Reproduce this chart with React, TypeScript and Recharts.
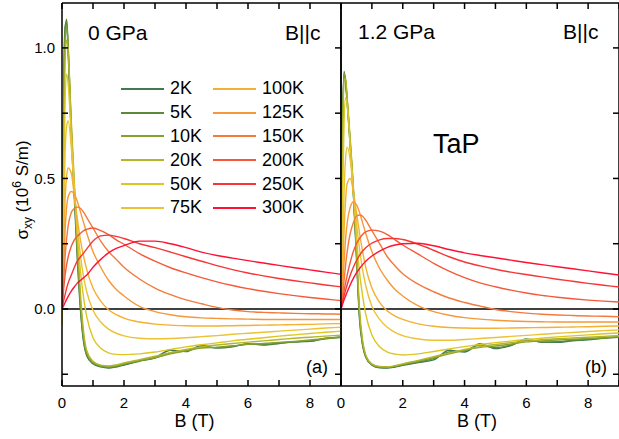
import React from 'react'
import { LineChart, Line, XAxis, YAxis, ReferenceLine, Legend } from 'recharts'

const FONT = '"Liberation Sans", Arial, Helvetica, sans-serif'

// magnetic field grid (T), shared by every curve
const fieldB = [0, 0.05, 0.1, 0.15, 0.2, 0.3, 0.4, 0.5, 0.6, 0.7, 0.8, 1, 1.25, 1.5, 1.75, 2, 2.5, 3, 3.5, 4, 4.5, 5, 5.5, 6, 6.5, 7, 7.5, 8, 8.5, 9]

const temps = ['2K', '5K', '10K', '20K', '50K', '75K', '100K', '125K', '150K', '200K', '250K', '300K']
const tempColors = ['#3f7a52', '#5a8a3a', '#86a02c', '#b3b52a', '#dcc622', '#ebc235', '#f3b033', '#f5983a', '#f47a3c', '#f45a3a', '#f63636', '#fe1234']

const bTicks = [0, 1, 2, 3, 4, 5, 6, 7, 8, 9]
const sigmaTicks = [-0.25, 0, 0.25, 0.5, 0.75, 1]

// sigma_xy (10^6 S/m), 0 GPa
const p0_2K = [0, 0.8, 1.08, 1.1, 0.98, 0.66, 0.42, 0.18, -0.01, -0.13, -0.18, -0.21, -0.222, -0.226, -0.222, -0.215, -0.198, -0.186, -0.158, -0.163, -0.14, -0.15, -0.145, -0.133, -0.138, -0.132, -0.126, -0.124, -0.112, -0.108]
const p0_5K = [0, 0.76, 1.07, 1.11, 1.0, 0.68, 0.44, 0.2, 0.0, -0.12, -0.176, -0.208, -0.22, -0.224, -0.22, -0.213, -0.2, -0.188, -0.168, -0.16, -0.146, -0.148, -0.143, -0.135, -0.136, -0.131, -0.127, -0.122, -0.114, -0.108]
const p0_10K = [0, 0.7, 1.03, 1.08, 1.0, 0.7, 0.46, 0.22, 0.02, -0.11, -0.17, -0.205, -0.218, -0.222, -0.218, -0.21, -0.198, -0.186, -0.172, -0.16, -0.15, -0.146, -0.141, -0.135, -0.132, -0.128, -0.124, -0.119, -0.113, -0.107]
const p0_20K = [0, 0.6, 0.95, 1.03, 0.98, 0.72, 0.48, 0.25, 0.05, -0.09, -0.16, -0.2, -0.215, -0.218, -0.214, -0.207, -0.194, -0.181, -0.167, -0.155, -0.145, -0.138, -0.132, -0.127, -0.122, -0.117, -0.112, -0.108, -0.104, -0.1]
const p0_50K = [-0.06, 0.45, 0.8, 0.9, 0.86, 0.66, 0.46, 0.28, 0.14, 0.04, -0.03, -0.11, -0.15, -0.168, -0.174, -0.175, -0.172, -0.165, -0.155, -0.145, -0.137, -0.13, -0.122, -0.116, -0.11, -0.104, -0.099, -0.094, -0.089, -0.085]
const p0_75K = [-0.06, 0.3, 0.6, 0.7, 0.72, 0.62, 0.45, 0.31, 0.2, 0.12, 0.065, -0.005, -0.05, -0.077, -0.093, -0.103, -0.112, -0.114, -0.113, -0.11, -0.106, -0.102, -0.097, -0.093, -0.089, -0.085, -0.081, -0.077, -0.073, -0.07]
const p0_100K = [0, 0.22, 0.42, 0.51, 0.54, 0.52, 0.43, 0.34, 0.26, 0.2, 0.15, 0.08, 0.03, -0.003, -0.022, -0.035, -0.05, -0.058, -0.062, -0.064, -0.065, -0.065, -0.064, -0.063, -0.062, -0.061, -0.06, -0.059, -0.057, -0.056]
const p0_125K = [0, 0.15, 0.3, 0.39, 0.43, 0.45, 0.44, 0.41, 0.37, 0.33, 0.29, 0.22, 0.16, 0.11, 0.075, 0.05, 0.01, -0.01, -0.022, -0.03, -0.034, -0.036, -0.038, -0.039, -0.04, -0.04, -0.04, -0.04, -0.04, -0.04]
const p0_150K = [0, 0.1, 0.2, 0.27, 0.32, 0.37, 0.385, 0.39, 0.385, 0.37, 0.35, 0.31, 0.26, 0.22, 0.19, 0.16, 0.115, 0.08, 0.055, 0.035, 0.02, 0.006, -0.004, -0.01, -0.013, -0.015, -0.017, -0.018, -0.019, -0.02]
const p0_200K = [0, 0.07, 0.13, 0.17, 0.2, 0.24, 0.265, 0.28, 0.29, 0.3, 0.305, 0.31, 0.3, 0.285, 0.265, 0.248, 0.212, 0.183, 0.158, 0.138, 0.12, 0.104, 0.09, 0.078, 0.068, 0.059, 0.051, 0.044, 0.038, 0.032]
const p0_250K = [0, 0.03, 0.055, 0.08, 0.1, 0.13, 0.16, 0.185, 0.2, 0.215, 0.23, 0.26, 0.28, 0.283, 0.278, 0.27, 0.25, 0.235, 0.218, 0.2, 0.183, 0.166, 0.151, 0.138, 0.127, 0.117, 0.108, 0.1, 0.092, 0.085]
const p0_300K = [0, 0.012, 0.025, 0.037, 0.048, 0.068, 0.085, 0.1, 0.11, 0.12, 0.13, 0.16, 0.19, 0.215, 0.232, 0.243, 0.26, 0.26, 0.25, 0.235, 0.218, 0.205, 0.195, 0.185, 0.176, 0.167, 0.158, 0.15, 0.141, 0.133]

// sigma_xy (10^6 S/m), 1.2 GPa
const p12_2K = [0, 0.7, 0.91, 0.86, 0.79, 0.62, 0.44, 0.2, -0.04, -0.14, -0.185, -0.215, -0.225, -0.226, -0.222, -0.216, -0.205, -0.195, -0.158, -0.165, -0.133, -0.152, -0.14, -0.115, -0.128, -0.128, -0.122, -0.118, -0.112, -0.108]
const p12_5K = [0, 0.68, 0.9, 0.87, 0.8, 0.63, 0.45, 0.21, -0.03, -0.135, -0.182, -0.213, -0.223, -0.224, -0.22, -0.214, -0.203, -0.19, -0.165, -0.16, -0.138, -0.148, -0.138, -0.12, -0.126, -0.125, -0.12, -0.116, -0.111, -0.107]
const p12_10K = [0, 0.65, 0.9, 0.88, 0.8, 0.64, 0.46, 0.22, -0.02, -0.13, -0.18, -0.212, -0.222, -0.223, -0.219, -0.212, -0.2, -0.187, -0.172, -0.158, -0.147, -0.142, -0.134, -0.126, -0.122, -0.119, -0.116, -0.113, -0.11, -0.106]
const p12_20K = [0, 0.6, 0.88, 0.88, 0.81, 0.65, 0.47, 0.24, 0.0, -0.12, -0.175, -0.21, -0.22, -0.221, -0.217, -0.21, -0.197, -0.183, -0.168, -0.155, -0.144, -0.136, -0.129, -0.123, -0.118, -0.114, -0.111, -0.108, -0.105, -0.102]
const p12_50K = [0, 0.4, 0.72, 0.81, 0.78, 0.62, 0.45, 0.28, 0.14, 0.05, -0.02, -0.1, -0.145, -0.165, -0.173, -0.176, -0.172, -0.163, -0.153, -0.144, -0.136, -0.129, -0.123, -0.117, -0.112, -0.107, -0.103, -0.099, -0.095, -0.092]
const p12_75K = [0, 0.2, 0.45, 0.58, 0.62, 0.57, 0.45, 0.33, 0.23, 0.15, 0.09, 0.01, -0.04, -0.07, -0.09, -0.102, -0.115, -0.12, -0.12, -0.117, -0.113, -0.109, -0.105, -0.101, -0.097, -0.093, -0.09, -0.086, -0.083, -0.08]
const p12_100K = [0, 0.13, 0.3, 0.42, 0.48, 0.5, 0.45, 0.37, 0.29, 0.22, 0.16, 0.08, 0.025, -0.008, -0.027, -0.04, -0.057, -0.066, -0.071, -0.073, -0.074, -0.074, -0.073, -0.072, -0.071, -0.07, -0.069, -0.068, -0.066, -0.065]
const p12_125K = [0, 0.08, 0.18, 0.27, 0.33, 0.39, 0.41, 0.4, 0.37, 0.33, 0.29, 0.22, 0.155, 0.11, 0.075, 0.05, 0.012, -0.01, -0.024, -0.033, -0.039, -0.043, -0.046, -0.048, -0.049, -0.05, -0.05, -0.05, -0.05, -0.05]
const p12_150K = [0, 0.05, 0.11, 0.17, 0.22, 0.29, 0.33, 0.355, 0.36, 0.355, 0.34, 0.3, 0.25, 0.2, 0.165, 0.135, 0.095, 0.066, 0.042, 0.025, 0.011, -0.002, -0.01, -0.016, -0.02, -0.023, -0.025, -0.027, -0.028, -0.03]
const p12_200K = [0, 0.035, 0.07, 0.1, 0.13, 0.18, 0.22, 0.25, 0.27, 0.285, 0.295, 0.302, 0.298, 0.285, 0.265, 0.245, 0.21, 0.175, 0.145, 0.12, 0.1, 0.085, 0.072, 0.061, 0.052, 0.045, 0.039, 0.034, 0.03, 0.027]
const p12_250K = [0, 0.025, 0.05, 0.072, 0.093, 0.13, 0.16, 0.185, 0.205, 0.222, 0.235, 0.252, 0.265, 0.27, 0.27, 0.266, 0.248, 0.225, 0.2, 0.18, 0.165, 0.152, 0.141, 0.132, 0.123, 0.114, 0.106, 0.098, 0.091, 0.084]
const p12_300K = [0, 0.018, 0.035, 0.05, 0.065, 0.093, 0.117, 0.138, 0.155, 0.17, 0.183, 0.203, 0.222, 0.236, 0.245, 0.25, 0.252, 0.242, 0.228, 0.215, 0.205, 0.196, 0.187, 0.178, 0.17, 0.162, 0.154, 0.146, 0.138, 0.13]

const series0 = [p0_2K, p0_5K, p0_10K, p0_20K, p0_50K, p0_75K, p0_100K, p0_125K, p0_150K, p0_200K, p0_250K, p0_300K]
const series12 = [p12_2K, p12_5K, p12_10K, p12_20K, p12_50K, p12_75K, p12_100K, p12_125K, p12_150K, p12_200K, p12_250K, p12_300K]

function toRows(series: number[][]) {
  return fieldB.map((b, i) => {
    const row: Record<string, number> = { B: b }
    temps.forEach((t, k) => { row[t] = series[k][i] })
    return row
  })
}

const rows0 = toRows(series0)
const rows12 = toRows(series12)

const Y_DOMAIN = [-0.295, 1.172]
const axisStroke = { stroke: '#000', strokeWidth: 1.5 }
const TICK_LEN = 6
const X_GAP = 5
const Y_GAP = 1
const PLOT_TOP = 3

// ticks on the bottom axis, mirrored on the top edge; all point into the plot
function BottomTick({ x, y, payload }: any) {
  const axisY = y - X_GAP - TICK_LEN
  const v = payload.value
  return (
    <g>
      <line x1={x} x2={x} y1={axisY} y2={axisY - TICK_LEN} stroke="#000" strokeWidth={1.5} />
      <line x1={x} x2={x} y1={PLOT_TOP} y2={PLOT_TOP + TICK_LEN} stroke="#000" strokeWidth={1.5} />
      {v % 2 === 0 && (
        <text x={x} y={y} dy="0.71em" textAnchor="middle" fontSize={15} fontFamily={FONT} fill="#000">{v}</text>
      )}
    </g>
  )
}

// ticks on the left axis (panel a only) and mirrored on the right edge
function SideTick({ x, y, payload, plotRight, labelled }: any) {
  const axisX = x + Y_GAP + TICK_LEN
  const v = payload.value
  return (
    <g>
      {labelled && <line x1={axisX} x2={axisX + TICK_LEN} y1={y} y2={y} stroke="#000" strokeWidth={1.5} />}
      <line x1={plotRight - TICK_LEN} x2={plotRight} y1={y} y2={y} stroke="#000" strokeWidth={1.5} />
      {labelled && Math.abs(v % 0.5) < 1e-9 && (
        <text x={x} y={y} dy="0.36em" textAnchor="end" fontSize={15} fontFamily={FONT} fill="#000">{v.toFixed(1)}</text>
      )}
    </g>
  )
}

function TempLegend() {
  return (
    <div style={{ display: 'grid', gridTemplateRows: 'repeat(6, 23.8px)', gridAutoFlow: 'column', gridAutoColumns: '92px', fontFamily: FONT, fontSize: 18, color: '#000' }}>
      {temps.map((t, k) => (
        <div key={t} style={{ display: 'flex', alignItems: 'center', whiteSpace: 'nowrap' }}>
          <span style={{ display: 'inline-block', width: 43, height: 2, background: tempColors[k], marginRight: 6 }} />
          {t}
        </div>
      ))}
    </div>
  )
}

function Panel({ rows, width, leftWidth, first, labelDx }: { rows: Record<string, number>[]; width: number; leftWidth: number; first: boolean; labelDx: number }) {
  const plotRight = width - 1
  return (
    <LineChart width={width} height={439} data={rows} margin={{ top: PLOT_TOP, right: 1, bottom: 0, left: 0 }}>
      <XAxis dataKey="B" type="number" domain={[0, 9]} ticks={bTicks} interval={0} allowDataOverflow height={53}
        axisLine={axisStroke} tickLine={false} tickSize={TICK_LEN} tickMargin={X_GAP} tick={<BottomTick />}
        label={{ value: 'B (T)', position: 'insideBottom', offset: 12, dx: labelDx, fill: '#000', fontSize: 18, fontFamily: FONT }} />
      <YAxis type="number" domain={Y_DOMAIN} ticks={sigmaTicks} interval={0} allowDataOverflow width={leftWidth}
        axisLine={axisStroke} tickLine={false} tickSize={TICK_LEN} tickMargin={Y_GAP}
        tick={<SideTick plotRight={plotRight} labelled={first} />} />
      <ReferenceLine y={Y_DOMAIN[1]} stroke="#000" strokeWidth={1.5} />
      <ReferenceLine x={9} stroke="#000" strokeWidth={1.5} />
      <ReferenceLine y={0} stroke="#000" strokeWidth={1.5} />
      {temps.map((t, k) => (
        <Line key={t} dataKey={t} name={t} type="monotone" stroke={tempColors[k]} strokeWidth={1.4} dot={false} isAnimationActive={false} />
      ))}
      {first && (
        <Legend layout="vertical" align="center" verticalAlign="middle" wrapperStyle={{ left: 121, top: 77, width: 200 }} content={() => <TempLegend />} />
      )}
    </LineChart>
  )
}

export default function App() {
  const text = { fontFamily: FONT, fill: '#000' }
  return (
    <div style={{ position: 'absolute', left: 0, top: 0, width: 619, height: 439, background: '#fff', overflow: 'hidden' }}>
      <div style={{ position: 'absolute', left: 0, top: 0 }}>
        <Panel rows={rows0} width={342} leftWidth={62} first labelDx={-7} />
      </div>
      <div style={{ position: 'absolute', left: 300, top: 0 }}>
        <Panel rows={rows12} width={320} leftWidth={41} first={false} labelDx={-3} />
      </div>
      <svg width={619} height={439} style={{ position: 'absolute', left: 0, top: 0, pointerEvents: 'none' }}>
        <text x={88} y={40} fontSize={21} {...text}>0 GPa</text>
        <text x={285} y={40} fontSize={21} {...text}>B||c</text>
        <text x={358} y={39} fontSize={21} {...text}>1.2 GPa</text>
        <text x={563} y={39} fontSize={21} {...text}>B||c</text>
        <text x={433} y={153} fontSize={27} {...text}>TaP</text>
        <text x={306} y={373} fontSize={18} {...text}>(a)</text>
        <text x={585} y={373} fontSize={18} {...text}>(b)</text>
        <text transform="translate(28,190) rotate(-90)" textAnchor="middle" fontSize={17} {...text}>
          σ<tspan dy={4} fontSize={12}>xy</tspan><tspan dy={-4}> (10</tspan><tspan dy={-7} fontSize={12}>6</tspan><tspan dy={7}> S/m)</tspan>
        </text>
      </svg>
    </div>
  )
}
